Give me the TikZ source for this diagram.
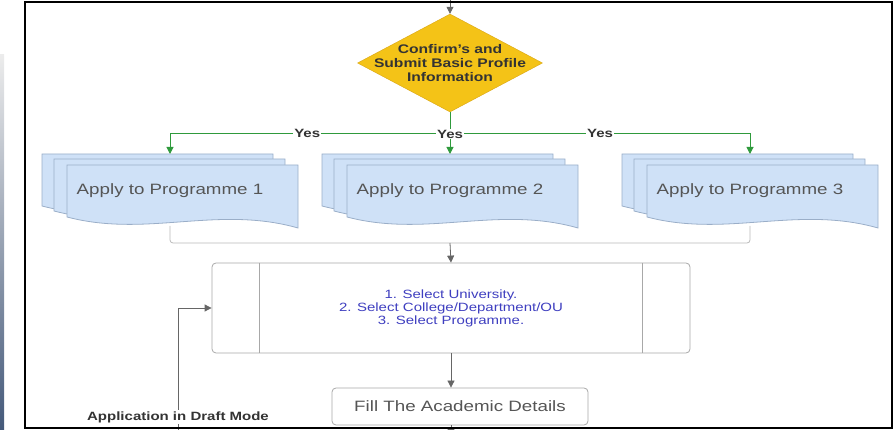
\documentclass[tikz,border=0pt]{standalone}
\usepackage{fontspec}
\setmainfont{Liberation Sans}[FakeStretch=1.25]
\usetikzlibrary{arrows.meta, positioning, shapes.geometric}
\definecolor{docblue}{HTML}{CFE1F7}
\definecolor{docedge}{HTML}{9AAEC8}
\definecolor{gold}{HTML}{F4C317}
\definecolor{goldedge}{HTML}{D9A514}
\definecolor{yesgreen}{HTML}{2F9A3C}
\definecolor{textgray}{HTML}{555555}
\definecolor{darktext}{HTML}{333333}
\definecolor{selblue}{HTML}{3F3FC0}
\definecolor{boxedge}{HTML}{A8A8A8}
\definecolor{linegray}{HTML}{666666}
\definecolor{barblue}{HTML}{44597A}

\begin{document}
\begin{tikzpicture}[x=1pt, y=-1pt,
  doclayer/.pic={\draw[fill=docblue, draw=docedge, line width=0.8pt] (0,0) -- (231,0) -- (231,63) .. controls (150,40) and (80,73) .. (0,52) -- cycle;},
  progtext/.style={anchor=base, text=textgray, font=\fontsize{15}{18}\selectfont},
  yeslbl/.style={fill=white, inner sep=1pt, text=darktext, font=\bfseries\fontsize{12}{14}\selectfont},
  yesline/.style={draw=yesgreen, line width=1pt, -{Triangle[width=7pt,length=7pt]}},
  arr/.style={draw=linegray, line width=0.8pt, -{Triangle[width=7pt,length=7pt]}},
  selbox/.style={draw=boxedge, line width=0.8pt, rounded corners=4pt, fill=white}]
  \useasboundingbox (0,0) rectangle (895,430);
  \shade[top color=gray!15, bottom color=barblue] (0,55) rectangle (4,430);

  % Confirm step
  \coordinate (entry) at (450,0);
  \node[diamond, draw=goldedge, fill=gold, minimum width=185pt, minimum height=98pt, inner sep=0pt,
    label={[align=center, text=darktext, font=\bfseries\fontsize{12.5}{14}\selectfont]center:Confirm's and\\Submit Basic Profile\\Information}] (confirm) at (450,63) {};
  \draw[arr] (entry) -- (confirm.north);

  % Programme 1
  \pic at (42,154) {doclayer};
  \pic at (54,159) {doclayer};
  \pic at (67,165) {doclayer};
  \node[progtext] (prog1) at (170,195) {Apply to Programme 1};
  \coordinate (p1top) at (170,154);
  \coordinate (p1bot) at (170,226);

  % Programme 2
  \pic at (322,154) {doclayer};
  \pic at (334,159) {doclayer};
  \pic at (347,165) {doclayer};
  \node[progtext] (prog2) at (450,195) {Apply to Programme 2};
  \coordinate (p2top) at (450,154);

  % Programme 3
  \pic at (622,154) {doclayer};
  \pic at (634,159) {doclayer};
  \pic at (647,165) {doclayer};
  \node[progtext] (prog3) at (750,195) {Apply to Programme 3};
  \coordinate (p3top) at (750,154);
  \coordinate (p3bot) at (750,226);

  % Yes branches
  \draw[yesline] (confirm.south) -- ++(0,21) -| (p1top) node[pos=0.255, yeslbl] {Yes};
  \draw[yesline] (confirm.south) -- ++(0,21) -| (p3top) node[pos=0.25, yeslbl] {Yes};
  \draw[yesline] (confirm.south) -- (p2top) node[pos=0.52, yeslbl] {Yes};

  % Selection
  \coordinate (merge) at (450,243);
  \draw[draw=boxedge!80, line width=0.8pt, rounded corners=3pt] (p1bot) -- (p1bot |- merge) -- (p3bot |- merge) -- (p3bot);
  \node[selbox, minimum width=478pt, minimum height=90pt, align=center, text=selblue,
    font=\fontsize{12}{13}\selectfont] (sel) at (451,308)
    {1. Select University.\\2. Select College/Department/OU\\3. Select Programme.};
  \draw[draw=boxedge, line width=0.8pt] ([xshift=48pt]sel.north west) -- ([xshift=48pt]sel.south west);
  \draw[draw=boxedge, line width=0.8pt] ([xshift=-48pt]sel.north east) -- ([xshift=-48pt]sel.south east);
  \draw[arr] (merge) -- (sel.north);

  % Academic details
  \node[selbox, minimum width=256pt, minimum height=37pt, text=textgray,
    font=\fontsize{15}{18}\selectfont] (fill) at (460,406.5) {Fill The Academic Details};
  \draw[arr] (sel.south) -- (sel.south |- fill.north);
  \coordinate (exit) at (451,436);
  \draw[arr] (sel.south |- fill.south) -- (exit);

  % Draft loop
  \coordinate (draft) at (178,430);
  \draw[arr] (draft) |- (sel.west) node[pos=0.053, yeslbl] {Application in Draft Mode};

  \draw[line width=1.5pt] (25,2) rectangle (892,428);
\end{tikzpicture}
\end{document}
